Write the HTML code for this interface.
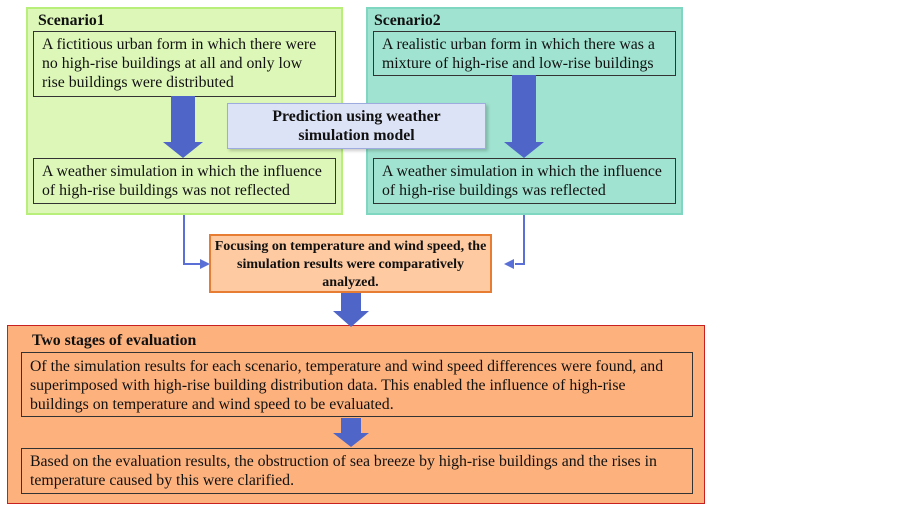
<!DOCTYPE html>
<html><head><style>
body{margin:0;width:902px;height:506px;background:#fff;position:relative;font-family:"Liberation Serif",serif;color:#111;overflow:hidden}
div{position:absolute;box-sizing:border-box}
.t{font-size:15.8px;line-height:19px;white-space:nowrap}
.b{font-weight:bold}
.in{border:1.5px solid #333;padding:3px 8px}
</style></head><body>
<div style="left:26px;top:7px;width:317px;height:208px;background:#ddf7b8;border:2px solid #b8ee7a"></div>
<div style="left:366px;top:7px;width:317px;height:208px;background:#a0e3d0;border:2px solid #7fd7c1"></div>
<div class="t b" style="left:38px;top:11px">Scenario1</div>
<div class="t b" style="left:374px;top:11px">Scenario2</div>
<div class="t in" style="left:33px;top:31px;width:303px;height:66px">A fictitious urban form in which there were<br>no high-rise buildings at all and only low<br>rise buildings were distributed</div>
<div class="t in" style="left:373px;top:31px;width:303px;height:45px">A realistic urban form in which there was a<br>mixture of high-rise and low-rise buildings</div>
<div class="t in" style="left:33px;top:158px;width:303px;height:46px">A weather simulation in which the influence<br>of high-rise buildings was not reflected</div>
<div class="t in" style="left:373px;top:158px;width:303px;height:46px">A weather simulation in which the influence<br>of high-rise buildings was reflected</div>
<div style="left:7px;top:325px;width:698px;height:179px;background:#fdb27e;border:1.5px solid #c82020"></div>
<svg style="position:absolute;left:0;top:0" width="902" height="506">
<g fill="#4f66c8">
<polygon points="171,96 195,96 195,142 203,142 183,158 163,142 171,142"/>
<polygon points="512,75 536,75 536,142 544,142 524,158 504,142 512,142"/>
<polygon points="341,293 361,293 361,311 369,311 351,327 333,311 341,311"/>
<polygon points="341,418 361,418 361,433 369,433 351,447 333,433 341,433"/>
</g>
<g stroke="#5b70d6" stroke-width="2" fill="none">
<polyline points="184,215 184,264 203,264"/>
<polyline points="524,215 524,264 515,264"/>
</g>
<polygon points="210,264 200,259 200,269" fill="#5b70d6"/>
<polygon points="504,264 514,259 514,269" fill="#5b70d6"/>
</svg>
<div class="t b" style="left:227px;top:103px;width:259px;height:46px;background:#dde3f6;border:1.5px solid #9eabde;text-align:center;padding-top:3px;box-shadow:2px 2px 3px rgba(0,0,0,.2)">Prediction using weather<br>simulation model</div>
<div class="b" style="left:209px;top:234px;width:283px;height:59px;background:#fdcaa2;border:2px solid #e77d33;text-align:center;font-size:14px;line-height:18px;padding-top:2px;white-space:nowrap">Focusing on temperature and wind speed, the<br>simulation results were comparatively<br>analyzed.</div>
<div class="t b" style="left:32px;top:331px">Two stages of evaluation</div>
<div class="t in" style="left:21px;top:352px;width:672px;height:65px;padding-top:4px">Of the simulation results for each scenario, temperature and wind speed differences were found, and<br>superimposed with high-rise building distribution data. This enabled the influence of high-rise<br>buildings on temperature and wind speed to be evaluated.</div>
<div class="t in" style="left:21px;top:448px;width:672px;height:46px;padding-top:3px">Based on the evaluation results, the obstruction of sea breeze by high-rise buildings and the rises in<br>temperature caused by this were clarified.</div>
</body></html>
